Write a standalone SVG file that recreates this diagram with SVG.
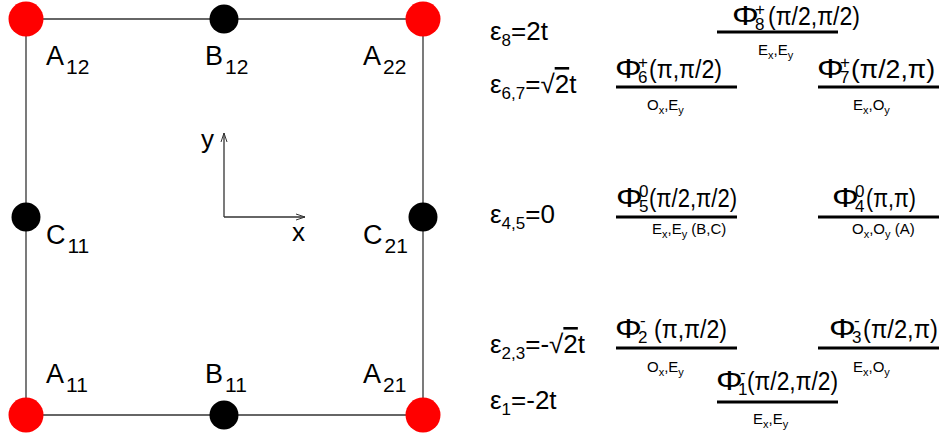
<svg xmlns="http://www.w3.org/2000/svg" width="943" height="439" viewBox="0 0 943 439">
<style>
text{font-family:"Liberation Sans",Arial,sans-serif;fill:#000}
.site{font-size:27px}
.ssub{font-size:21px}
.eps{font-size:26px}
.esub{font-size:17px}
.ov{text-decoration:overline}
.phi{font-size:26px}
.big{font-size:28px}
.ps{font-size:17px}
.sm{font-size:15px}
.smsub{font-size:11px}
.lvl{stroke:#000;stroke-width:3}
.edge{stroke:#333;stroke-width:1.3;fill:none}
.red{fill:#ff0000}
.blk{fill:#000}
</style>
<defs>
<marker id="arr" markerWidth="10" markerHeight="8" refX="9" refY="4" orient="auto" markerUnits="userSpaceOnUse">
<path d="M0,1 L9,4 L0,7" fill="none" stroke="#333" stroke-width="1"/>
</marker>
</defs>
<g id="connectors">
<line class="edge" x1="26" y1="19" x2="423" y2="19"/>
<line class="edge" x1="26" y1="415" x2="423" y2="415"/>
<line class="edge" x1="26" y1="19" x2="26" y2="415"/>
<line class="edge" x1="423" y1="19" x2="423" y2="415"/>
</g>
<g id="axes">
<line class="edge" x1="224" y1="217" x2="224" y2="133" marker-end="url(#arr)"/>
<line class="edge" x1="224" y1="217" x2="305" y2="217" marker-end="url(#arr)"/>
<text x="201" y="148" style="font-size:26px">y</text>
<text x="292" y="241" style="font-size:26px">x</text>
</g>
<g id="A12"><circle class="red" cx="26" cy="19" r="17.5"/><text class="site" x="46" y="65">A<tspan class="ssub" dx="2" dy="9">12</tspan></text></g>
<g id="B12"><circle class="blk" cx="224" cy="19" r="14.5"/><text class="site" x="205" y="65">B<tspan class="ssub" dx="2" dy="9">12</tspan></text></g>
<g id="A22"><circle class="red" cx="423" cy="19" r="17.5"/><text class="site" x="363" y="65">A<tspan class="ssub" dx="2" dy="9">22</tspan></text></g>
<g id="C11"><circle class="blk" cx="26" cy="217" r="14.5"/><text class="site" x="46" y="244">C<tspan class="ssub" dx="2" dy="9">11</tspan></text></g>
<g id="C21"><circle class="blk" cx="423" cy="217" r="14.5"/><text class="site" x="363" y="244">C<tspan class="ssub" dx="2" dy="9">21</tspan></text></g>
<g id="A11"><circle class="red" cx="26" cy="415" r="17.5"/><text class="site" x="46" y="383">A<tspan class="ssub" dx="2" dy="9">11</tspan></text></g>
<g id="B11"><circle class="blk" cx="224" cy="415" r="14.5"/><text class="site" x="205" y="383">B<tspan class="ssub" dx="2" dy="9">11</tspan></text></g>
<g id="A21"><circle class="red" cx="423" cy="415" r="17.5"/><text class="site" x="363" y="383">A<tspan class="ssub" dx="2" dy="9">21</tspan></text></g>

<g id="energies">
<text class="eps" x="490" y="40">ε<tspan class="esub" dy="6">8</tspan><tspan dy="-6">=2t</tspan></text>
<text class="eps" x="490" y="93">ε<tspan class="esub" dy="6">6,7</tspan><tspan dy="-6">=√</tspan><tspan class="ov">2</tspan>t</text>
<text class="eps" x="490" y="223">ε<tspan class="esub" dy="6">4,5</tspan><tspan dy="-6">=0</tspan></text>
<text class="eps" x="490" y="353">ε<tspan class="esub" dy="6">2,3</tspan><tspan dy="-6">=-√</tspan><tspan class="ov">2</tspan>t</text>
<text class="eps" x="490" y="409">ε<tspan class="esub" dy="6">1</tspan><tspan dy="-6">=-2t</tspan></text>
</g>

<g id="phi8">
<text class="big" transform="translate(732,25) scale(1.2,1)">Φ</text><text class="ps" x="755" y="15">+</text><text class="ps" x="755" y="30">8</text><text class="phi" x="768" y="25" textLength="92" lengthAdjust="spacingAndGlyphs">(π/2,π/2)</text>
<line class="lvl" x1="717" y1="32" x2="838" y2="32"/>
<text class="sm" x="758" y="55">E<tspan class="smsub" dy="4">x</tspan><tspan dy="-4">,E</tspan><tspan class="smsub" dy="4">y</tspan></text>
</g>
<g id="phi6">
<text class="big" transform="translate(615,78) scale(1.2,1)">Φ</text><text class="ps" x="638" y="68">+</text><text class="ps" x="638" y="83">6</text><text class="phi" x="649" y="78" textLength="73" lengthAdjust="spacingAndGlyphs">(π,π/2)</text>
<line class="lvl" x1="616" y1="87" x2="737" y2="87"/>
<text class="sm" x="647" y="110">O<tspan class="smsub" dy="4">x</tspan><tspan dy="-4">,E</tspan><tspan class="smsub" dy="4">y</tspan></text>
</g>
<g id="phi7">
<text class="big" transform="translate(817,78) scale(1.2,1)">Φ</text><text class="ps" x="840" y="68">+</text><text class="ps" x="840" y="83">7</text><text class="phi" x="851" y="78" textLength="84" lengthAdjust="spacingAndGlyphs">(π/2,π)</text>
<line class="lvl" x1="818" y1="87" x2="939" y2="87"/>
<text class="sm" x="853" y="110">E<tspan class="smsub" dy="4">x</tspan><tspan dy="-4">,O</tspan><tspan class="smsub" dy="4">y</tspan></text>
</g>
<g id="phi5">
<text class="big" transform="translate(616,207) scale(1.2,1)">Φ</text><text class="ps" x="639" y="197">0</text><text class="ps" x="639" y="212">5</text><text class="phi" x="649" y="207" textLength="88" lengthAdjust="spacingAndGlyphs">(π/2,π/2)</text>
<line class="lvl" x1="616" y1="217" x2="737" y2="217"/>
<text class="sm" x="652" y="234">E<tspan class="smsub" dy="4">x</tspan><tspan dy="-4">,E</tspan><tspan class="smsub" dy="4">y</tspan><tspan dy="-4"> (B,C)</tspan></text>
</g>
<g id="phi4">
<text class="big" transform="translate(832,207) scale(1.2,1)">Φ</text><text class="ps" x="855" y="197">0</text><text class="ps" x="855" y="212">4</text><text class="phi" x="866" y="207" textLength="50" lengthAdjust="spacingAndGlyphs">(π,π)</text>
<line class="lvl" x1="818" y1="217" x2="939" y2="217"/>
<text class="sm" x="852" y="234">O<tspan class="smsub" dy="4">x</tspan><tspan dy="-4">,O</tspan><tspan class="smsub" dy="4">y</tspan><tspan dy="-4"> (A)</tspan></text>
</g>
<g id="phi2">
<text class="big" transform="translate(615,338) scale(1.2,1)">Φ</text><text class="ps" x="640" y="326">-</text><text class="ps" x="638" y="343">2</text><text class="phi" x="654" y="338" textLength="73" lengthAdjust="spacingAndGlyphs">(π,π/2)</text>
<line class="lvl" x1="616" y1="348" x2="737" y2="348"/>
<text class="sm" x="647" y="372">O<tspan class="smsub" dy="4">x</tspan><tspan dy="-4">,E</tspan><tspan class="smsub" dy="4">y</tspan></text>
</g>
<g id="phi3">
<text class="big" transform="translate(829,338) scale(1.2,1)">Φ</text><text class="ps" x="854" y="326">-</text><text class="ps" x="852" y="343">3</text><text class="phi" x="863" y="338" textLength="75" lengthAdjust="spacingAndGlyphs">(π/2,π)</text>
<line class="lvl" x1="818" y1="348" x2="939" y2="348"/>
<text class="sm" x="853" y="372">E<tspan class="smsub" dy="4">x</tspan><tspan dy="-4">,O</tspan><tspan class="smsub" dy="4">y</tspan></text>
</g>
<g id="phi1">
<text class="big" transform="translate(716,390) scale(1.2,1)">Φ</text><text class="ps" x="740" y="378">-</text><text class="ps" x="738" y="395">1</text><text class="phi" x="747" y="390" textLength="91" lengthAdjust="spacingAndGlyphs">(π/2,π/2)</text>
<line class="lvl" x1="717" y1="402" x2="838" y2="402"/>
<text class="sm" x="753" y="424">E<tspan class="smsub" dy="4">x</tspan><tspan dy="-4">,E</tspan><tspan class="smsub" dy="4">y</tspan></text>
</g>
</svg>
